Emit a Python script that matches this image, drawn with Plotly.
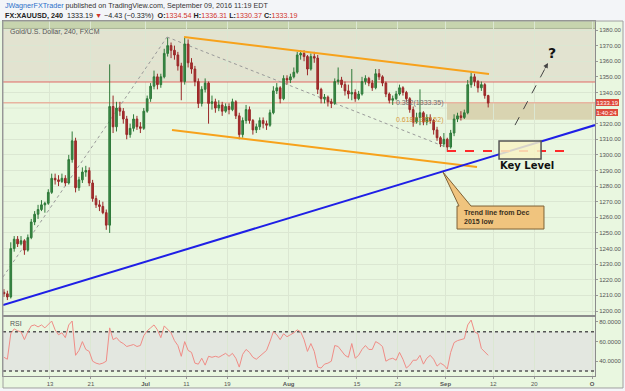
import plotly.graph_objects as go

# ---------------- data ----------------
# time axis: trading-day index (0 = Mon Jun 13 2016), two 12h bars per trading day
first_day = -7
bars_per_day = 2
tick_days = [0, 6, 14, 20, 26, 35, 45, 51, 58, 65, 71, 79.5]
tick_labels = ["13", "21", "<b>Jul</b>", "11", "19", "<b>Aug</b>", "15", "23", "<b>Sep</b>", "12", "20", "<b>O</b>"]
# price-scale labels (1330 is hidden behind the last-price tag)
price_ticks = [1200, 1210, 1220, 1230, 1240, 1250, 1260, 1270, 1280, 1290, 1300,
               1310, 1320, 1340, 1350, 1360, 1370, 1380]
rsi_ticks = [40, 60, 80]

opens = [1212, 1211, 1209, 1240, 1246, 1243, 1245, 1239, 1247, 1257,
         1262, 1265, 1268, 1269, 1276, 1285, 1284, 1283, 1285, 1282,
         1297, 1309, 1279, 1284, 1289, 1290, 1282, 1272, 1268, 1267,
         1263, 1255, 1331, 1318, 1330, 1328, 1323, 1313, 1317, 1323,
         1318, 1317, 1328, 1336, 1344, 1350, 1345, 1350, 1365, 1370,
         1367, 1364, 1357, 1347, 1371, 1359, 1355, 1347, 1333, 1342,
         1346, 1333, 1334, 1330, 1332, 1328, 1331, 1329, 1334, 1325,
         1313, 1322, 1329, 1322, 1316, 1318, 1322, 1320, 1319, 1327,
         1341, 1343, 1336, 1349, 1348, 1350, 1353, 1364, 1365, 1363,
         1355, 1363, 1362, 1342, 1336, 1337, 1334, 1333, 1347, 1348,
         1345, 1341, 1339, 1340, 1336, 1339, 1347, 1349, 1346, 1343,
         1352, 1350, 1346, 1339, 1335, 1336, 1339, 1343, 1340, 1336,
         1329, 1321, 1324, 1327, 1321, 1324, 1322, 1316, 1311, 1307,
         1310, 1305, 1314, 1323, 1325, 1324, 1327, 1345, 1350, 1347,
         1343, 1345, 1338]
highs = [1214, 1213, 1244, 1248, 1248, 1248, 1246, 1249, 1259, 1264,
         1268, 1271, 1270, 1278, 1288, 1288, 1287, 1288, 1287, 1300,
         1315, 1311, 1286, 1292, 1293, 1292, 1284, 1274, 1271, 1270,
         1265, 1358, 1338, 1334, 1334, 1330, 1325, 1320, 1326, 1325,
         1321, 1330, 1338, 1346, 1354, 1352, 1352, 1368, 1375, 1372,
         1370, 1366, 1359, 1375, 1374, 1362, 1357, 1349, 1344, 1349,
         1347, 1338, 1336, 1335, 1334, 1333, 1333, 1336, 1335, 1327,
         1324, 1332, 1331, 1323, 1320, 1324, 1324, 1322, 1329, 1344,
         1346, 1344, 1351, 1351, 1352, 1356, 1366, 1367, 1367, 1364,
         1365, 1366, 1364, 1343, 1339, 1338, 1336, 1349, 1356, 1350,
         1347, 1345, 1355, 1342, 1341, 1350, 1351, 1350, 1348, 1355,
         1355, 1351, 1347, 1340, 1338, 1341, 1345, 1344, 1341, 1337,
         1331, 1327, 1342, 1328, 1326, 1326, 1323, 1318, 1312, 1314,
         1311, 1316, 1326, 1327, 1328, 1329, 1348, 1353, 1352, 1348,
         1347, 1346, 1338.5]
lows = [1209, 1207, 1208, 1238, 1241, 1242, 1236, 1238, 1246, 1255,
        1259, 1264, 1263, 1268, 1275, 1281, 1280, 1282, 1280, 1281,
        1295, 1276, 1277, 1282, 1286, 1280, 1270, 1266, 1264, 1262,
        1252, 1250, 1314, 1315, 1325, 1320, 1310, 1311, 1315, 1316,
        1314, 1316, 1327, 1334, 1342, 1342, 1343, 1349, 1363, 1362,
        1361, 1354, 1335, 1345, 1356, 1352, 1344, 1330, 1331, 1340,
        1320, 1329, 1327, 1328, 1325, 1327, 1326, 1328, 1323, 1310,
        1311, 1320, 1320, 1313, 1314, 1316, 1317, 1316, 1318, 1326,
        1339, 1333, 1335, 1345, 1346, 1349, 1352, 1361, 1360, 1351,
        1354, 1359, 1339, 1333, 1333, 1331, 1330, 1332, 1345, 1343,
        1338, 1336, 1335, 1334, 1335, 1338, 1345, 1344, 1341, 1342,
        1348, 1344, 1337, 1333, 1332, 1335, 1338, 1338, 1334, 1327,
        1318, 1320, 1319, 1319, 1319, 1320, 1313, 1309, 1305, 1305,
        1302, 1304, 1312, 1321, 1322, 1323, 1326, 1343, 1344, 1340,
        1341, 1336, 1330.4]
closes = [1211, 1209, 1240, 1246, 1243, 1245, 1239, 1247, 1257, 1262,
          1265, 1268, 1269, 1276, 1285, 1284, 1283, 1285, 1282, 1297,
          1309, 1279, 1284, 1289, 1290, 1282, 1272, 1268, 1267, 1263,
          1255, 1331, 1318, 1330, 1328, 1323, 1313, 1317, 1323, 1318,
          1317, 1328, 1336, 1344, 1350, 1345, 1350, 1365, 1370, 1367,
          1364, 1357, 1347, 1371, 1359, 1355, 1347, 1333, 1342, 1346,
          1333, 1334, 1330, 1332, 1328, 1331, 1329, 1334, 1325, 1313,
          1322, 1329, 1322, 1316, 1318, 1322, 1320, 1319, 1327, 1341,
          1343, 1336, 1349, 1348, 1350, 1353, 1364, 1365, 1363, 1355,
          1363, 1362, 1342, 1336, 1337, 1334, 1333, 1347, 1348, 1345,
          1341, 1339, 1340, 1336, 1339, 1347, 1349, 1346, 1343, 1352,
          1350, 1346, 1339, 1335, 1336, 1339, 1343, 1340, 1336, 1329,
          1321, 1324, 1327, 1321, 1324, 1322, 1316, 1311, 1307, 1310,
          1305, 1314, 1323, 1325, 1324, 1327, 1345, 1350, 1347, 1343,
          1345, 1338, 1333.19]
rsi = [44, 42, 68, 73, 71, 70, 62, 70, 76, 77,
       75, 77, 74, 78, 81, 72, 67, 69, 64, 77,
       81, 46, 51, 60, 52, 50, 40, 38, 37, 38,
       40, 74, 62, 64, 60, 58, 55, 56, 57, 55,
       56, 66, 71, 74, 77, 72, 64, 76, 72, 69,
       61, 56, 45, 60, 51, 49, 38, 37, 43, 36,
       45, 44, 45, 44, 46, 48, 45, 48, 43, 34,
       47, 52, 49, 44, 42, 45, 48, 51, 60, 70,
       67, 62, 68, 65, 67, 69, 72, 70, 62, 50,
       58, 50, 34, 33, 37, 38, 40, 56, 55, 50,
       46, 44, 58, 43, 46, 52, 56, 52, 52, 60,
       58, 55, 40, 42, 43, 41, 49, 42, 33, 36,
       41, 41, 46, 37, 43, 46, 42, 35, 38, 36,
       32, 49, 59, 61, 62, 63, 77, 82, 70, 68,
       53, 50, 46]

fib_levels = [0.382, 0.618]
fib_prices = [1333.35, 1322.52]
resistance = 1346.7
support = 1302.5
last_price = 1333.19

bar_x = [first_day + (i + 0.5) / bars_per_day for i in range(len(closes))]

# ---------------- figure ----------------
X0, X1 = -6.89, 79.91
Y0, Y1 = 1197.43, 1385.77
GRID = "#dbe7d2"
FRAME = "#8c8c8c"

fig = go.Figure()
fig.add_trace(go.Candlestick(
    x=bar_x, open=opens, high=highs, low=lows, close=closes,
    increasing=dict(line=dict(color="#2f7a3a", width=1), fillcolor="#3a8a46"),
    decreasing=dict(line=dict(color="#9a2828", width=1), fillcolor="#a83030"),
    whiskerwidth=0, hoverinfo="skip", showlegend=False, xaxis="x", yaxis="y"))
fig.add_trace(go.Scatter(
    x=bar_x, y=rsi, mode="lines", line=dict(color="#f08c86", width=1),
    hoverinfo="skip", showlegend=False, xaxis="x2", yaxis="y2"))

shapes = []
def add(**kw):
    shapes.append(kw)

# zones
add(type="rect", xref="x", yref="y", x0=X0, x1=X1, y0=resistance, y1=1381,
    fillcolor="#e2e3d0", line=dict(width=0), layer="below")
add(type="rect", xref="x", yref="y", x0=X0, x1=X1, y0=1381, y1=1387,
    fillcolor="#c7d4ae", line=dict(width=0), layer="below")
add(type="line", xref="x", yref="y", x0=X0, x1=X1, y0=1381, y1=1381,
    line=dict(color="#a9b396", width=1), layer="below")
add(type="line", xref="x", yref="y", x0=X0, x1=X1, y0=1330, y1=1330,
    line=dict(color=GRID, width=1), layer="below")
add(type="rect", xref="x", yref="y", x0=58.2, x1=X1, y0=fib_prices[1], y1=fib_prices[0],
    fillcolor="#d9d4b1", line=dict(width=0), layer="below")
add(type="line", xref="x", yref="y", x0=X0, x1=X1, y0=resistance, y1=resistance,
    line=dict(color="#e06a66", width=1), layer="between")
add(type="line", xref="x", yref="y", x0=X0, x1=X1, y0=fib_prices[0], y1=fib_prices[0],
    line=dict(color="#e8b4a0", width=1.5), layer="between")
# gray dotted swing lines
add(type="line", xref="x", yref="y", x0=-6.89, y0=1221.8, x1=17.16, y1=1375.5,
    line=dict(color="#9a9a9a", width=1, dash="dot"), layer="between")
add(type="line", xref="x", yref="y", x0=17.16, y0=1375.5, x1=57.62, y1=1305.7,
    line=dict(color="#9a9a9a", width=1, dash="dot"), layer="between")
# orange channel
add(type="line", xref="x", yref="y", x0=19.65, y0=1375.5, x1=64.37, y1=1351.8,
    line=dict(color="#f7a21b", width=2))
add(type="line", xref="x", yref="y", x0=17.89, y0=1315.9, x1=62.61, y1=1292.2,
    line=dict(color="#f7a21b", width=2))
# blue trend line
add(type="line", xref="x", yref="y", x0=X0, y0=1203.8, x1=X1, y1=1319.1,
    line=dict(color="#1f1fe6", width=2))
# red dashed support
add(type="line", xref="x", yref="y", x0=58.21, y0=support, x1=75.81, y1=support,
    line=dict(color="#ff2a2a", width=2, dash="dash"))
# key level box
add(type="rect", xref="x", yref="y", x0=65.84, x1=72.0, y0=1297.4, y1=1308.9,
    fillcolor="rgba(248,242,196,0.85)", line=dict(color="#555555", width=1.5))
# dashed projection arrow
add(type="line", xref="x", yref="y", x0=68.18, y0=1319.1, x1=73.02, y1=1358.9,
    line=dict(color="#444444", width=1, dash="dash"))
# callout
add(type="path", xref="x", yref="y",
    path="M 57.62,1289.0 L 61.73,1267.25 L 72.43,1267.25 L 72.43,1252.5 "
         "L 59.68,1252.5 L 59.68,1267.25 L 59.97,1267.25 Z",
    fillcolor="#f0c47e", line=dict(color="#7d6236", width=1))
# RSI band
add(type="rect", xref="x2", yref="y2", x0=X0, x1=X1, y0=30, y1=70,
    fillcolor="#e3e7e0", line=dict(width=0), layer="below")
for lv in (30, 70):
    add(type="line", xref="x2", yref="y2", x0=X0, x1=X1, y0=lv, y1=lv,
        line=dict(color="#555555", width=1.5, dash="dot"), layer="between")
# page chrome
add(type="rect", xref="paper", yref="paper", x0=-0.02, x1=1.06, y0=1.0, y1=1.07,
    fillcolor="#f3f5f8", line=dict(width=0), layer="below")
add(type="rect", xref="paper", yref="paper", x0=-0.02, x1=1.06, y0=-0.07, y1=-0.0338,
    fillcolor="#f3f5f8", line=dict(width=0), layer="below")
add(type="rect", xref="paper", yref="paper", x0=1.0473, x1=1.06, y0=-0.07, y1=1.07,
    fillcolor="#f3f5f8", line=dict(width=0), layer="below")
add(type="rect", xref="paper", yref="paper", x0=0, x1=1.0473, y0=-0.0338, y1=1.0,
    fillcolor="rgba(0,0,0,0)", line=dict(color="#a0a0a0", width=1), layer="above")

ann = []
def note(**kw):
    ann.append(kw)

RED = "#d0342c"
note(xref="paper", yref="paper", x=0, y=1.0423, xanchor="left", yanchor="middle", showarrow=False,
     text="<span style='color:#2a6fc9'>JWagnerFXTrader</span> published on TradingView.com, September 09, 2016 11:19 EDT",
     font=dict(size=7.2, color="#333333"))
note(xref="paper", yref="paper", x=0, y=1.0169, xanchor="left", yanchor="middle", showarrow=False,
     text=("<b>FX:XAUUSD, 240</b>  1333.19 <span style='color:%s'>▼</span> −4.43 (−0.33%%)  "
           "<b>O:</b><span style='color:%s'>1334.54</span> <b>H:</b><span style='color:%s'>1336.31</span> "
           "<b>L:</b><span style='color:%s'>1330.37</span> <b>C:</b><span style='color:%s'>1333.19</span>")
          % (RED, RED, RED, RED, RED),
     font=dict(size=7.2, color="#222222"))
note(xref="paper", yref="paper", x=0.0084, y=0.9718, xanchor="left", yanchor="middle", showarrow=False,
     text="Gold/U.S. Dollar, 240, FXCM", font=dict(size=7, color="#555555"))
note(xref="paper", yref="paper", x=0.0084, y=0.149, xanchor="left", yanchor="middle", showarrow=False,
     text="RSI", font=dict(size=7, color="#555555"))
note(xref="x", yref="y", x=57.9, y=fib_prices[0], xanchor="right", yanchor="middle", showarrow=False,
     text="%.3f(%.2f)" % (fib_levels[0], fib_prices[0]), font=dict(size=7, color="#707070"))
note(xref="x", yref="y", x=57.9, y=fib_prices[1], xanchor="right", yanchor="middle", showarrow=False,
     text="%.3f(%.2f)" % (fib_levels[1], fib_prices[1]), font=dict(size=7, color="#d89a3e"))
note(xref="x", yref="y", x=69.94, y=1292.9, xanchor="center", yanchor="middle", showarrow=False,
     text="<b>Key Level</b>", font=dict(size=10, color="#111111", family="DejaVu Sans"))
note(xref="x", yref="y", x=73.6, y=1365.3, xanchor="center", yanchor="middle", showarrow=False,
     text="<b>?</b>", font=dict(size=14, color="#111111", family="DejaVu Sans"))
note(xref="x", yref="y", x=73.02, y=1358.9, ax=-4, ay=7, axref="pixel", ayref="pixel",
     text="", showarrow=True, arrowhead=2, arrowsize=1, arrowwidth=1, arrowcolor="#444444")
note(xref="x", yref="y", x=60.4, y=1259.9, xanchor="left", yanchor="middle", align="left", showarrow=False,
     text="<b>Trend line from Dec<br>2015 low</b>", font=dict(size=7, color="#3a3020"))
note(xref="paper", yref="y", x=1.0, y=last_price, xanchor="left", yanchor="middle", xshift=1, yshift=0.5,
     showarrow=False, text="%.2f" % last_price, bgcolor="#de4a3c", borderpad=0.5, borderwidth=0,
     font=dict(size=6, color="white"))
note(xref="paper", yref="y", x=1.0, y=last_price, xanchor="left", yanchor="middle", xshift=1, yshift=-9.5,
     showarrow=False, text="1:40:24", bgcolor="#de4a3c", borderpad=0.5, borderwidth=0,
     font=dict(size=6, color="white"))

fig.update_layout(
    width=625, height=391,
    margin=dict(l=3, r=30, t=21, b=15),
    paper_bgcolor="#e9f7e0", plot_bgcolor="#e9f7e0",
    showlegend=False,
    font=dict(family="Liberation Sans, Arial, sans-serif", size=7, color="#555555"),
    shapes=shapes, annotations=ann,
    xaxis=dict(domain=[0, 1], anchor="y", range=[X0, X1], tickvals=tick_days,
               showticklabels=False, showgrid=True, gridcolor=GRID, gridwidth=1,
               showline=True, mirror=True, linecolor=FRAME, linewidth=1, zeroline=False,
               rangeslider=dict(visible=False), ticks=""),
    yaxis=dict(domain=[0.1718, 1], anchor="x", side="right", range=[Y0, Y1],
               tickvals=price_ticks, tickformat=".2f", showgrid=True, gridcolor=GRID,
               ticks="outside", ticklen=2, tickcolor="#999999",
               tickfont=dict(size=6, color="#555555"),
               showline=True, mirror=True, linecolor=FRAME, linewidth=1, zeroline=False),
    xaxis2=dict(domain=[0, 1], anchor="y2", matches="x", range=[X0, X1],
                tickvals=tick_days, ticktext=tick_labels, showgrid=True, gridcolor=GRID,
                ticks="outside", ticklen=2, tickcolor="#999999",
                tickfont=dict(size=6, color="#555555"),
                showline=True, mirror=True, linecolor=FRAME, linewidth=1, zeroline=False),
    yaxis2=dict(domain=[0, 0.1662], anchor="x2", side="right", range=[24.9, 85.1],
                tickvals=rsi_ticks, tickformat=".4f", showgrid=False,
                ticks="outside", ticklen=2, tickcolor="#999999",
                tickfont=dict(size=6, color="#555555"),
                showline=True, mirror=True, linecolor=FRAME, linewidth=1, zeroline=False),
)

fig.write_html("out.html", config={"displayModeBar": False},
               post_script="document.body.style.margin='0';document.body.style.padding='0';")
